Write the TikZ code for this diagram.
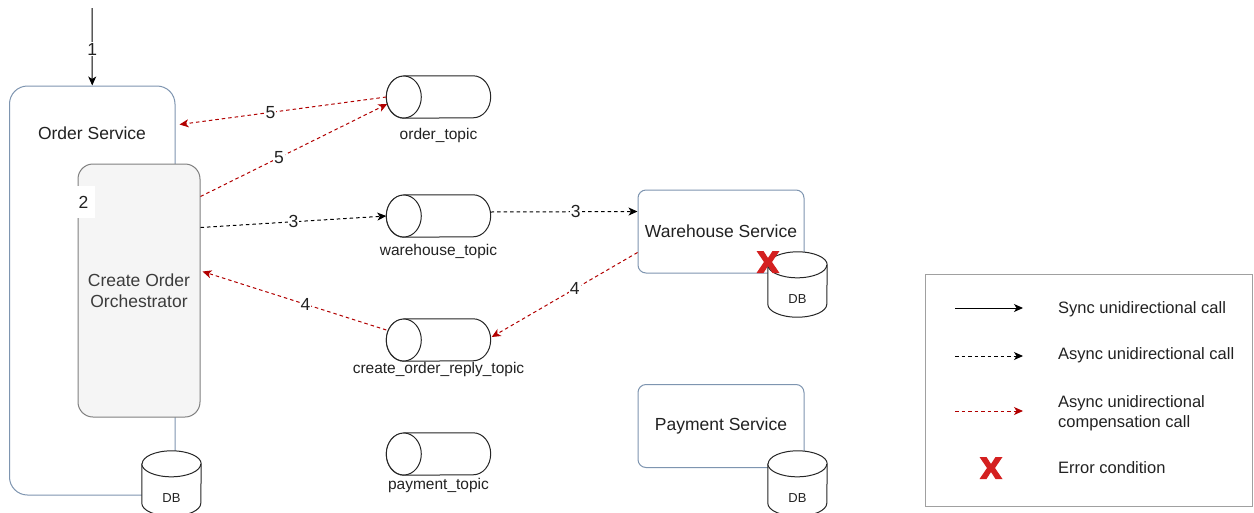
\documentclass[tikz,border=0pt]{standalone}
\usepackage{fontspec}
\setmainfont{Liberation Sans}
\usetikzlibrary{arrows.meta,calc}

\definecolor{svcline}{HTML}{7E95B0}
\definecolor{orchline}{HTML}{808080}
\definecolor{orchfill}{HTML}{F5F5F5}
\definecolor{comp}{HTML}{B20000}
\definecolor{errred}{HTML}{D42020}
\definecolor{legline}{HTML}{A0A0A0}
\definecolor{ink}{HTML}{222222}
\definecolor{orchtext}{HTML}{3C3C3C}

\newcommand{\svcfont}{\fontsize{17.5}{21.5}\selectfont}
\newcommand{\topicfont}{\fontsize{15.5}{18}\selectfont}
\newcommand{\legfont}{\fontsize{16.5}{19.5}\selectfont}
\newcommand{\dbfont}{\fontsize{13}{15}\selectfont}

% vertical database cylinder drawn over an invisible box node
\newcommand{\dbshape}[1]{%
  \filldraw[cylline] ([yshift=-13pt]#1.north west) -- ([yshift=13pt]#1.south west)
    arc[start angle=180, end angle=360, x radius=29.5pt, y radius=13pt]
    -- ([yshift=-13pt]#1.north east)
    arc[start angle=0, end angle=180, x radius=29.5pt, y radius=13pt] -- cycle;
  \draw[cylline] ([yshift=-13pt]#1.north west)
    arc[start angle=180, end angle=360, x radius=29.5pt, y radius=13pt];
}
% horizontal topic cylinder, open face on the left
\newcommand{\topicshape}[1]{%
  \filldraw[cylline] ([xshift=17.5pt]#1.north west) -- ([xshift=-17.5pt]#1.north east)
    arc[start angle=90, end angle=-90, x radius=17.5pt, y radius=21pt]
    -- ([xshift=17.5pt]#1.south west)
    arc[start angle=270, end angle=90, x radius=17.5pt, y radius=21pt] -- cycle;
  \draw[cylline] ([xshift=17.5pt]#1.west) ellipse[x radius=17.5pt, y radius=21pt];
}

\tikzset{
  cylline/.style={draw=black!85, fill=white, line width=1pt},
  svc/.style={draw=svcline, fill=white, line width=1pt, rounded corners=8pt,
    minimum width=166pt, minimum height=83pt, font=\svcfont, text=ink},
  topicbox/.style={minimum width=104pt, minimum height=42pt, inner sep=0pt},
  topiclbl/.style={font=\topicfont, text=ink, inner sep=0pt},
  dbbox/.style={minimum width=59pt, minimum height=65pt, inner sep=0pt},
  dblbl/.style={font=\dbfont, text=ink, inner sep=0pt},
  numlbl/.style={fill=white, inner sep=1pt, font=\svcfont, text=ink},
  syncarrow/.style={-{Stealth[length=9pt,width=8pt,inset=2.5pt]}, line width=1pt},
  asyncarrow/.style={syncarrow, dash pattern=on 3.5pt off 3pt},
  comparrow/.style={asyncarrow, color=comp},
  legtext/.style={font=\legfont, text=ink, anchor=west, align=left, inner sep=0pt},
  errmark/.pic={
    \fill[errred] (-11.5,-11) -- (-4.5,-11) -- (0,-4) -- (4.5,-11) -- (11.5,-11)
      -- (4,0) -- (11.5,11) -- (4.5,11) -- (0,4) -- (-4.5,11) -- (-11.5,11)
      -- (-4,0) -- cycle;
  }
}

\begin{document}
\begin{tikzpicture}[x=1pt,y=-1pt]
\useasboundingbox[fill=white] (0,0) rectangle (1254,512);

% Order service with its orchestrator and database
\node[draw=svcline, line width=1pt, rounded corners=18pt,
      minimum width=165.5pt, minimum height=409pt] (os) at (92.25,290.5) {};
\node[font=\svcfont, text=ink] (ostitle) at (92,133) {Order Service};
\node[draw=orchline, fill=orchfill, line width=1pt, rounded corners=15pt,
      minimum width=122pt, minimum height=253pt, align=center,
      font=\svcfont, text=orchtext] (orch) at (139,290.5) {Create Order\\Orchestrator};
\node[fill=white, minimum width=23pt, minimum height=32pt, inner sep=0pt,
      font=\svcfont, text=ink] (two) at (83.5,202) {2};
\node[dbbox] (odb) at (171.5,483.5) {};
\dbshape{odb}
\node[dblbl] (odbl) at ($(odb.center)+(0,14.5)$) {DB};

% topics
\node[topicbox] (ot) at (438.5,97) {};
\topicshape{ot}
\node[topiclbl] (otl) at (438.5,135) {order\textunderscore topic};
\node[topicbox] (wt) at (438.5,216) {};
\topicshape{wt}
\node[topiclbl] (wtl) at (438.5,251) {warehouse\textunderscore topic};
\node[topicbox] (rt) at (438.5,340) {};
\topicshape{rt}
\node[topiclbl] (rtl) at (438.5,369) {create\textunderscore order\textunderscore reply\textunderscore topic};
\node[topicbox] (pt) at (438.5,454) {};
\topicshape{pt}
\node[topiclbl] (ptl) at (438.5,485) {payment\textunderscore topic};

% downstream services
\node[svc] (ws) at (721,231.5) {Warehouse Service};
\node[dbbox] (wdb) at (797.5,284.5) {};
\dbshape{wdb}
\node[dblbl] (wdbl) at ($(wdb.center)+(0,15)$) {DB};
\pic (wx) at (768,262) {errmark};

\node[svc] (ps) at (721,426) {Payment Service};
\node[dbbox] (pdb) at (797.5,483.5) {};
\dbshape{pdb}
\node[dblbl] (pdbl) at ($(pdb.center)+(0,14.5)$) {DB};

% calls
\coordinate (entry) at (92,8);
\draw[syncarrow] (entry) -- (os.north) node[numlbl, pos=0.53] {1};
\draw[comparrow] (ot.west) -- ($(os.north east)+(4,39)$) node[numlbl, pos=0.56] {5};
\draw[comparrow] ($(orch.north east)+(0,33)$) -- ($(ot.west)+(1,7)$) node[numlbl, pos=0.42] {5};
\draw[asyncarrow] ($(orch.north east)+(0,64)$) -- (wt.west) node[numlbl, pos=0.5] {3};
\draw[asyncarrow] ($(wt.east)+(0,-4)$) -- ($(ws.west)+(0,-20)$) node[numlbl, pos=0.58] {3};
\draw[comparrow] ($(ws.west)+(0,21)$) -- ($(rt.east)+(1,-3)$) node[numlbl, pos=0.43] {4};
\draw[comparrow] ($(rt.west)+(0,-10)$) -- ($(orch.east)+(2,-19)$) node[numlbl, pos=0.44] {4};

% legend
\node[draw=legline, line width=1pt, minimum width=327pt, minimum height=232pt] (legend) at (1089,390) {};
\coordinate (l1a) at (955,308);
\coordinate (l1b) at (1023,308);
\draw[syncarrow] (l1a) -- (l1b);
\node[legtext] (l1t) at (1058,309) {Sync unidirectional call};
\coordinate (l2a) at (955,356);
\coordinate (l2b) at (1023,356);
\draw[asyncarrow] (l2a) -- (l2b);
\node[legtext] (l2t) at (1058,355) {Async unidirectional call};
\coordinate (l3a) at (955,411);
\coordinate (l3b) at (1023,411);
\draw[comparrow] (l3a) -- (l3b);
\node[legtext] (l3t) at (1058,413) {Async unidirectional\\compensation call};
\pic (lx) at (991,468) {errmark};
\node[legtext] (l4t) at (1058,468) {Error condition};
\end{tikzpicture}
\end{document}
